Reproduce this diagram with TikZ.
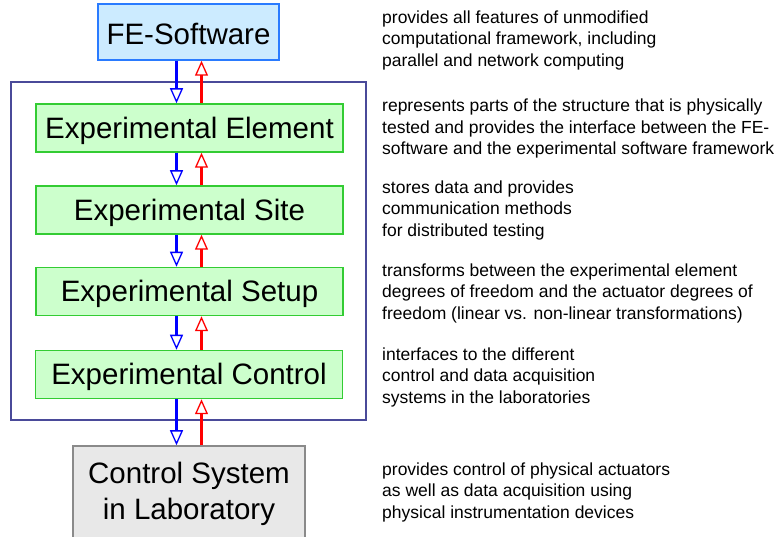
\documentclass[tikz,border=0pt]{standalone}
\usepackage{fontspec}
\setmainfont{Liberation Sans}
\usetikzlibrary{arrows.meta}
\definecolor{feblue}{HTML}{CCEBFF}
\definecolor{feborder}{HTML}{2A7BFF}
\definecolor{elgreen}{HTML}{CCFFCC}
\definecolor{elborder}{HTML}{33CC33}
\definecolor{csgray}{HTML}{E8E8E8}
\definecolor{csborder}{HTML}{8A8A8A}
\definecolor{frame}{HTML}{4A4A99}
\tikzset{
  bigtext/.style={font=\fontsize{29.5}{36}\selectfont},
  febox/.style={draw=feborder, fill=feblue, line width=1.5pt, minimum width=181pt, minimum height=56pt, inner sep=0pt, bigtext, text height=26pt, text depth=0pt},
  elbox/.style={draw=elborder, fill=elgreen, line width=1.5pt, minimum width=307pt, minimum height=48pt, inner sep=0pt, bigtext, text height=21pt, text depth=0pt},
  csbox/.style={draw=csborder, fill=csgray, line width=1.5pt, minimum width=232pt, minimum height=96pt, inner sep=0pt, bigtext, align=center},
  desc/.style={anchor=west, inner sep=0pt, align=left, font=\fontsize{17.5}{21.5}\selectfont},
  down/.style={draw=blue, line width=3pt, -{Triangle[open, width=13pt, length=15pt, line width=1.3pt]}},
  up/.style={draw=red, line width=3pt, -{Triangle[open, width=13pt, length=15pt, line width=1.3pt]}},
}
\begin{document}
\begin{tikzpicture}[x=1pt, y=-1pt]
\useasboundingbox (0,0) rectangle (777,537);
\draw[frame, line width=1.2pt] (11,82) rectangle (366,420);
\coordinate (xb) at (176.5,0);
\coordinate (xr) at (201.5,0);
\node[febox] (fe) at (188.5,32) {FE-Software};
\node[elbox] (el) at (189.5,128) {Experimental Element};
\node[elbox] (site) at (189.5,210) {Experimental Site};
\node[elbox] (setup) at (189.5,291.5) {Experimental Setup};
\node[elbox] (ctrl) at (189,374.5) {Experimental Control};
\node[csbox] (cs) at (189,494) {Control System\\in Laboratory};
% arrows
\foreach \a/\b in {fe/el, el/site, site/setup, setup/ctrl, ctrl/cs}{
  \draw[down] (\a.south -| xb) -- (\b.north -| xb);
  \draw[up] (\b.north -| xr) -- (\a.south -| xr);
}
% descriptions
\node[desc] (d1) at (382,40) {provides all features of unmodified\\computational framework, including\\parallel and network computing};
\node[desc] (d2) at (382,128.5) {represents parts of the structure that is physically\\tested and provides the interface between the FE-\\software and the experimental software framework};
\node[desc] (d3) at (382,210) {stores data and provides\\communication methods\\for distributed testing};
\node[desc] (d4) at (382,293) {transforms between the experimental element\\degrees of freedom and the actuator degrees of\\freedom (linear vs. non-linear transformations)};
\node[desc] (d5) at (382,377) {interfaces to the different\\control and data acquisition\\systems in the laboratories};
\node[desc] (d6) at (382,492) {provides control of physical actuators\\as well as data acquisition using\\physical instrumentation devices};
\end{tikzpicture}
\end{document}
